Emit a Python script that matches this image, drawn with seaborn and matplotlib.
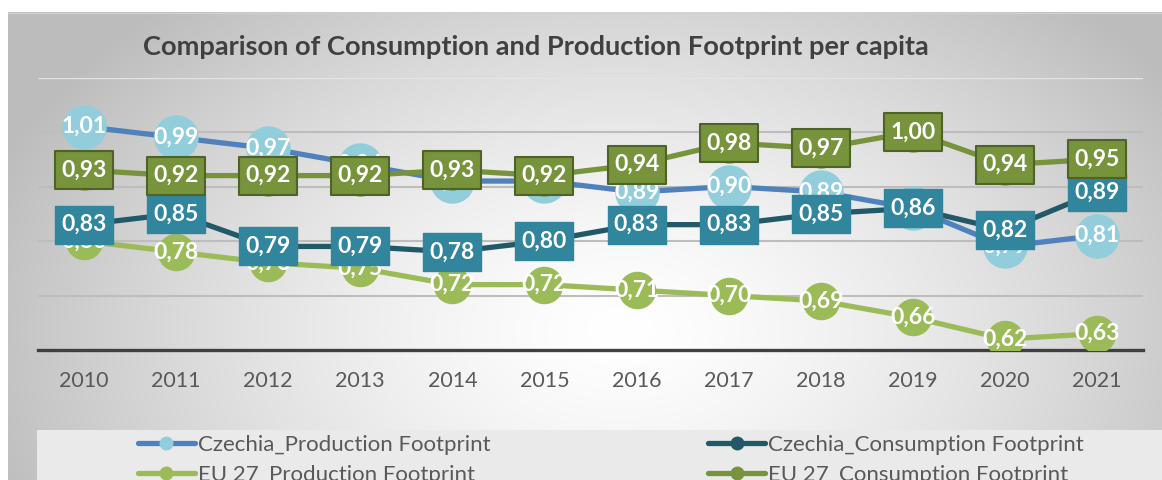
import matplotlib
matplotlib.use("Agg")
import matplotlib.pyplot as plt
import seaborn as sns
import numpy as np
from matplotlib.path import Path
from matplotlib.lines import Line2D
from matplotlib.patches import Rectangle

# data
years = [2010, 2011, 2012, 2013, 2014, 2015, 2016, 2017, 2018, 2019, 2020, 2021]
cz_production = [1.01, 0.99, 0.97, 0.94, 0.91, 0.91, 0.89, 0.90, 0.89, 0.86, 0.79, 0.81]
cz_consumption = [0.83, 0.85, 0.79, 0.79, 0.78, 0.80, 0.83, 0.83, 0.85, 0.86, 0.82, 0.89]
eu_production = [0.80, 0.78, 0.76, 0.75, 0.72, 0.72, 0.71, 0.70, 0.69, 0.66, 0.62, 0.63]
eu_consumption = [0.93, 0.92, 0.92, 0.92, 0.93, 0.92, 0.94, 0.98, 0.97, 1.00, 0.94, 0.95]
series_names = ["Czechia_Production Footprint", "Czechia_Consumption Footprint",
                "EU 27_Production Footprint", "EU 27_Consumption Footprint"]
title = "Comparison of Consumption and Production Footprint per capita"

sns.set_style("white")
plt.rcParams["font.family"] = ["Lato", "DejaVu Sans"]

W, H = 1162, 480
fig = plt.figure(figsize=(W / 100, H / 100), dpi=100)

# radial grey background like the Excel chart area
bg = fig.add_axes([0, 0, 1, 1], zorder=-10)
xx, yy = np.meshgrid(np.arange(W), np.arange(H))
r = np.sqrt(((xx - 620) / 650.0) ** 2 + ((yy - 330) / 430.0) ** 2)
val = np.clip(1 - 0.25 * r ** 1.4, 0.74, 1)
val[(xx < 8) | (yy < 12)] = 1.0
bg.imshow(np.dstack([val, val, val]), extent=[0, W, H, 0], aspect="auto", interpolation="bilinear")
bg.plot([8, W], [12.5, 12.5], color="#CFCFCF", lw=1)
bg.add_patch(Rectangle((37, 430), W - 37, 50, facecolor="#EAEAEA", edgecolor="none"))
bg.set_xlim(0, W)
bg.set_ylim(H, 0)
bg.axis("off")

ax = fig.add_axes([38 / W, 1 - 350 / H, (1143 - 38) / W, (350 - 77.5) / H])
ax.patch.set_alpha(0)

styles = [
    dict(color="#4F81BD", mfc="#92CDDC", ms=32),
    dict(color="#215968", mfc="#215968", ms=28),
    dict(color="#9BBB59", mfc="#9BBB59", ms=27),
    dict(color="#77933C", mfc="#77933C", ms=29),
]
all_series = [cz_production, cz_consumption, eu_production, eu_consumption]

for i, (vals, st) in enumerate(zip(all_series, styles)):
    sns.lineplot(x=years, y=vals, ax=ax, color=st["color"], lw=3.8,
                 marker="o", markersize=st["ms"], markerfacecolor=st["mfc"],
                 markeredgecolor=st["mfc"], markeredgewidth=0, zorder=3 + i)

# box shaped marker for the boxed data labels (58 x 38 px)
box = Path([(-1, -0.65), (1, -0.65), (1, 0.65), (-1, 0.65), (-1, -0.65)],
           [Path.MOVETO, Path.LINETO, Path.LINETO, Path.LINETO, Path.CLOSEPOLY])

label_kw = dict(ha="center", va="center", color="white", fontsize=16.5, fontweight="bold")
for x, v in zip(years, cz_production):
    ax.text(x, v, f"{v:.2f}".replace(".", ","), zorder=10, **label_kw)
for x, v in zip(years, eu_production):
    ax.text(x, v, f"{v:.2f}".replace(".", ","), zorder=11, **label_kw)
ax.plot(years, cz_consumption, ls="none", marker=box, ms=42, mfc="#31859C", mec="#31859C", zorder=12)
for x, v in zip(years, cz_consumption):
    ax.text(x, v, f"{v:.2f}".replace(".", ","), zorder=12.5, **label_kw)
ax.plot(years, eu_consumption, ls="none", marker=box, ms=42, mfc="#77933C", mec="#4F6228", mew=1.5, zorder=13)
for x, v in zip(years, eu_consumption):
    ax.text(x, v, f"{v:.2f}".replace(".", ","), zorder=13.5, **label_kw)

ax.set_xlim(years[0] - 0.5, years[-1] + 0.5)
ax.set_ylim(0.6, 1.1)
ax.set_xticks(years)
ax.set_xticklabels([str(y) for y in years])
ax.set_yticks([0.7, 0.8, 0.9, 1.0])
ax.set_yticklabels([])
ax.yaxis.grid(True, color="#BDBDBD", lw=1.5, zorder=0)
ax.axhline(1.1, color="#E4E4E4", lw=1, zorder=0)
ax.tick_params(axis="both", length=0)
ax.tick_params(axis="x", pad=15, labelsize=15.5, labelcolor="#595959")
ax.set_xlabel("")
ax.set_ylabel("")
for s in ["left", "right", "top"]:
    ax.spines[s].set_visible(False)
ax.spines["bottom"].set_color("#404040")
ax.spines["bottom"].set_linewidth(2.4)
ax.spines["bottom"].set_zorder(2)

fig.text(143 / W, 1 - 47 / H, title, ha="left", va="center", fontsize=19.6,
         fontweight="bold", color="#404040")

# legend, order as in the reference (row-wise)
handles = [Line2D([], [], color=st["color"], lw=3.8, marker="o", ms=9,
                  mfc=st["mfc"], mec=st["mfc"]) for st in styles]
order = [0, 2, 1, 3]
fig.legend([handles[k] for k in order], [series_names[k] for k in order],
           ncol=2, loc="upper left", bbox_to_anchor=(138 / W, 1 - 435 / H),
           frameon=False, fontsize=16, labelcolor="#595959", handlelength=2.55,
           handletextpad=0.15, columnspacing=9.8, labelspacing=0.45, borderpad=0,
           borderaxespad=0)

plt.savefig("out.png", dpi=100)
plt.close()
